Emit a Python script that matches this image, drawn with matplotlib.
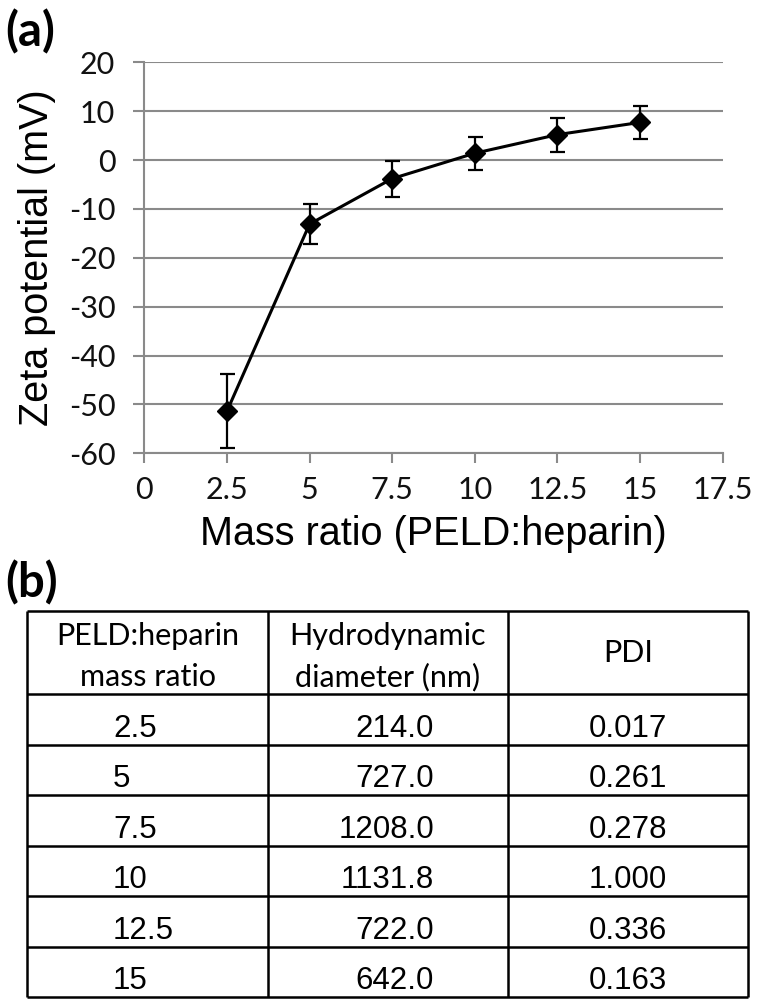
import matplotlib
matplotlib.use("Agg")
import matplotlib.pyplot as plt
import numpy as np

# ---- data ----
mass_ratio = [2.5, 5, 7.5, 10, 12.5, 15]
zeta = [-51.4, -13.1, -3.8, 1.4, 5.2, 7.7]
zeta_err = [7.6, 4.1, 3.7, 3.4, 3.5, 3.3]
x_ticks = [0, 2.5, 5, 7.5, 10, 12.5, 15, 17.5]
x_tick_labels = ["0", "2.5", "5", "7.5", "10", "12.5", "15", "17.5"]
y_ticks = [-60, -50, -40, -30, -20, -10, 0, 10, 20]

table_header = ["PELD:heparin\nmass ratio", "Hydrodynamic\ndiameter (nm)", "PDI"]
table_ratio = ["2.5", "5", "7.5", "10", "12.5", "15"]
table_diam = ["214.0", "727.0", "1208.0", "1131.8", "722.0", "642.0"]
table_pdi = ["0.017", "0.261", "0.278", "1.000", "0.336", "0.163"]

W, H = 761, 1008
fig = plt.figure(figsize=(W / 100, H / 100), dpi=100)

def fx(px):
    return px / W

def fy(py):
    return 1 - py / H

GRID = "#8a8a8a"
TICKFONT = "Lato"
ARIAL = "Liberation Sans"

# ---- panel (a) ----
ax = fig.add_axes([fx(144.3), fy(453.3), fx(722.7) - fx(144.3), fy(62.3) - fy(453.3)])
ax.set_xlim(0, 17.5)
ax.set_ylim(-60, 20)
ax.set_xticks(x_ticks)
ax.set_xticklabels(x_tick_labels)
ax.set_yticks(y_ticks)
ax.set_yticklabels([str(v) for v in y_ticks])
ax.yaxis.grid(True, color=GRID, linewidth=1.5)
ax.set_axisbelow(True)
for s in ["top", "right"]:
    ax.spines[s].set_visible(False)
for s in ["left", "bottom"]:
    ax.spines[s].set_color(GRID)
    ax.spines[s].set_linewidth(1.5)
ax.tick_params(axis="both", direction="out", color=GRID, width=1.5, labelsize=22,
               labelcolor="#111111")
ax.tick_params(axis="x", length=7.2, pad=9)
ax.tick_params(axis="y", length=7.9, pad=13)
for lab in ax.get_xticklabels() + ax.get_yticklabels():
    lab.set_fontfamily(TICKFONT)

ax.errorbar(mass_ratio, zeta, yerr=zeta_err, color="black", linewidth=2.2,
            marker="D", markersize=10, markerfacecolor="black",
            ecolor="black", elinewidth=1.6, capsize=5.4, capthick=1.6, zorder=3)

ax.set_xlabel("Mass ratio (PELD:heparin)", fontsize=28.5, family=ARIAL, labelpad=8)
ax.set_ylabel("Zeta potential (mV)", fontsize=28.5, family=ARIAL, labelpad=9)

fig.text(fx(5), fy(46), "(a)", fontsize=34, fontweight="bold", family=TICKFONT,
         va="baseline", ha="left")
fig.text(fx(5), fy(597), "(b)", fontsize=34, fontweight="bold", family=TICKFONT,
         va="baseline", ha="left")

# ---- panel (b): table ----
t_left, t_right, t_top, t_bot = 27, 747.5, 611, 997
header_h = 83
n_rows = len(table_ratio)
row_h = (t_bot - t_top - header_h) / n_rows
tw = t_right - t_left
th = t_bot - t_top
tax = fig.add_axes([fx(t_left), fy(t_bot), fx(t_right) - fx(t_left), fy(t_top) - fy(t_bot)])
tax.set_xlim(0, tw)
tax.set_ylim(th, 0)
tax.axis("off")

col_edges = [0, 241, 481, tw]
row_edges = [0, header_h] + [header_h + row_h * (i + 1) for i in range(n_rows)]
tax.hlines(row_edges, 0, tw, color="black", linewidth=1.8, clip_on=False)
tax.vlines(col_edges, 0, th, color="black", linewidth=1.8, clip_on=False)

col_centers = [(col_edges[i] + col_edges[i + 1]) / 2 for i in range(3)]
# header
hfont = dict(family=TICKFONT, fontsize=22, color="black")
for i, txt in enumerate(table_header):
    lines = txt.split("\n")
    if len(lines) == 2:
        tax.text(col_centers[i], 34, lines[0], ha="center", va="baseline", **hfont)
        tax.text(col_centers[i], 75, lines[1], ha="center", va="baseline", **hfont)
    else:
        tax.text(col_centers[i], 51, lines[0], ha="center", va="baseline", **hfont)

dfont = dict(family=ARIAL, fontsize=22.5, color="black")
for r in range(n_rows):
    base = row_edges[r + 2] - 7.8
    tax.text(86, base, table_ratio[r], ha="left", va="baseline", **dfont)
    tax.text(407, base, table_diam[r], ha="right", va="baseline", **dfont)
    tax.text(col_centers[2], base, table_pdi[r], ha="center", va="baseline", **dfont)

fig.savefig("out.png", dpi=100)
